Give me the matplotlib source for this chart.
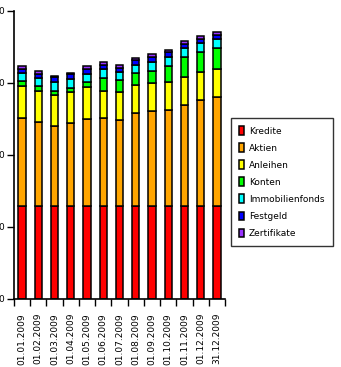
import matplotlib
matplotlib.use("Agg")
import matplotlib.pyplot as plt
import numpy as np

dates = ["01.01.2009", "01.02.2009", "01.03.2009", "01.04.2009", "01.05.2009",
         "01.06.2009", "01.07.2009", "01.08.2009", "01.09.2009", "01.10.2009",
         "01.11.2009", "01.12.2009", "31.12.2009"]

kredite = [129, 129, 129, 129, 129, 129, 129, 129, 129, 129, 129, 129, 129]
aktien = [123, 117, 111, 115, 121, 123, 119, 129, 132, 134, 140, 147, 151]
anleihen = [44, 43, 44, 43, 44, 37.5, 39, 39, 39, 39, 39, 39, 39]
konten = [7, 7, 5.5, 6.5, 8, 17, 17, 17, 17, 22, 28, 28, 29]
immobilienfonds = [11, 11, 12, 12.5, 11, 12.5, 11, 11, 12.5, 12.5, 12.5, 12, 12.5]
festgeld = [6, 6, 6.4, 6, 6.4, 6, 6.4, 6.4, 6.4, 6, 6, 6, 5.6]
zertifikate = [4, 3.7, 2.4, 2.4, 3.7, 3.7, 3.3, 3.7, 3.7, 4, 4, 4, 4.6]

series = [
    ("Kredite", kredite, "#ff0000"),
    ("Aktien", aktien, "#ffa500"),
    ("Anleihen", anleihen, "#ffff00"),
    ("Konten", konten, "#00ff00"),
    ("Immobilienfonds", immobilienfonds, "#00ffff"),
    ("Festgeld", festgeld, "#0000ff"),
    ("Zertifikate", zertifikate, "#9933ff"),
]

yticks = [0, 100, 200, 300, 400]
# only the last digit of each y label is visible in the reference
ytick_labels = ["0", "0", "0", "0", "0"]

W, H = 341, 367
fig = plt.figure(figsize=(W / 100, H / 100), dpi=100)
ax = fig.add_axes([14 / W, (H - 299) / H, (225 - 14) / W, (299 - 11) / H])

x = np.arange(len(dates))
bottom = np.zeros(len(dates))
handles = []
for name, vals, col in series:
    v = np.array(vals, dtype=float)
    b = ax.bar(x, v, bottom=bottom, width=0.45, color=col, edgecolor="black",
               linewidth=1.1, label=name)
    handles.append(b)
    bottom += v

ax.set_xlim(-0.5, len(dates) - 0.5)
ax.set_ylim(0, 400)
ax.set_yticks(yticks)
ax.set_yticklabels(ytick_labels, fontsize=6.5)
ax.tick_params(axis="y", length=5, width=1, pad=2)

ax.set_xticks(x)
ax.set_xticklabels(dates, rotation=90, fontsize=6.5)
ax.set_xticks(np.arange(-0.5, len(dates), 1.0), minor=True)
ax.tick_params(axis="x", which="major", length=0, pad=10)
ax.tick_params(axis="x", which="minor", length=5, width=1)

for s in ["top", "right"]:
    ax.spines[s].set_visible(False)
for s in ["left", "bottom"]:
    ax.spines[s].set_linewidth(1.2)

leg = fig.legend(handles=handles, loc="upper left",
                 bbox_to_anchor=(231 / W, 1 - 118 / H),
                 fontsize=6.5, frameon=True, fancybox=False, shadow=False,
                 handlelength=0.5, handleheight=1.1, handletextpad=0.6,
                 labelspacing=0.85, borderpad=0.9, borderaxespad=0)
leg.get_frame().set_edgecolor("black")
leg.get_frame().set_linewidth(1.0)

fig.savefig("out.png", dpi=100)
